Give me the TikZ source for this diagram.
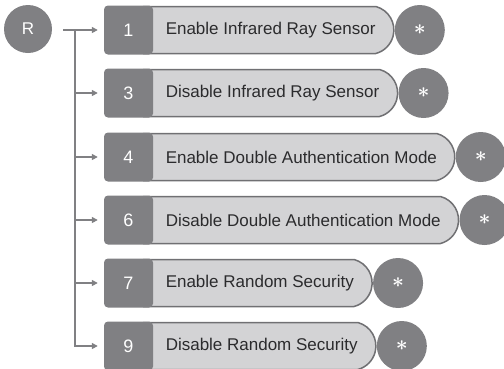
\documentclass[tikz,border=0pt]{standalone}
\usepackage{fontspec}
\setmainfont{Liberation Sans}
\usetikzlibrary{positioning,shapes.misc,arrows.meta}

\definecolor{darkgray}{HTML}{808083}
\definecolor{lightgray}{HTML}{D3D3D5}
\definecolor{edgegray}{HTML}{707073}
\definecolor{inkgray}{HTML}{2B2B2D}

\tikzset{
  keyball/.style={circle, fill=darkgray, minimum size=48pt, inner sep=0pt, text=white,
    font=\fontsize{17pt}{20pt}\selectfont},
  numbox/.style={rectangle, rounded corners=4pt, fill=darkgray, minimum width=49pt,
    minimum height=49pt, inner sep=0pt, text=white, font=\fontsize{18pt}{21pt}\selectfont},
  labbox/.style={rounded rectangle, rounded rectangle left arc=none,
    rounded rectangle arc length=150, draw=edgegray, line width=1.5pt, fill=lightgray,
    minimum height=47pt, inner xsep=17pt, inner ysep=0pt, anchor=west, text=inkgray,
    execute at begin node={\hspace*{5pt}}, font=\fontsize{17pt}{20pt}\selectfont},
  starbox/.style={circle, fill=darkgray, minimum size=50pt, inner sep=0pt, text=white,
    font=\fontsize{22pt}{24pt}\selectfont\boldmath},
  conn/.style={draw=darkgray, line width=1.5pt, -{Triangle[length=6pt,width=6pt]},
    shorten >=6pt}
}

\begin{document}
\begin{tikzpicture}

    \useasboundingbox (0,0) rectangle (504pt,-368pt);

    % 左侧圆形
    \node[keyball] (r) at (28pt,-29pt) {R};

    % 六个选项
    \node[labbox] (lab1) at (143pt,-30pt) {Enable Infrared Ray Sensor};
    \node[numbox] (num1) at (128.5pt,-30pt) {1};
    \node[starbox, right=0pt of lab1] (star1) {$\ast$};

    \node[labbox] (lab3) at (143pt,-93pt) {Disable Infrared Ray Sensor};
    \node[numbox] (num3) at (128.5pt,-93pt) {3};
    \node[starbox, right=0pt of lab3] (star3) {$\ast$};

    \node[labbox] (lab4) at (143pt,-157pt) {Enable Double Authentication Mode};
    \node[numbox] (num4) at (128.5pt,-157pt) {4};
    \node[starbox, right=0pt of lab4] (star4) {$\ast$};

    \node[labbox] (lab6) at (143pt,-220pt) {Disable Double Authentication Mode};
    \node[numbox] (num6) at (128.5pt,-220pt) {6};
    \node[starbox, right=0pt of lab6] (star6) {$\ast$};

    \node[labbox] (lab7) at (143pt,-283pt) {Enable Random Security};
    \node[numbox] (num7) at (128.5pt,-283pt) {7};
    \node[starbox, right=0pt of lab7] (star7) {$\ast$};

    \node[labbox] (lab9) at (143pt,-346pt) {Disable Random Security};
    \node[numbox] (num9) at (128.5pt,-346pt) {9};
    \node[starbox, right=0pt of lab9] (star9) {$\ast$};

    % 连线
    \coordinate (fork) at (63pt,-30pt);
    \coordinate (trunk) at (75pt,-30pt);
    \draw[conn] (fork) -- (num1.west);
    \draw[conn] (trunk) |- (num9.west);
    \draw[conn] (trunk |- num3.west) -- (num3.west);
    \draw[conn] (trunk |- num4.west) -- (num4.west);
    \draw[conn] (trunk |- num6.west) -- (num6.west);
    \draw[conn] (trunk |- num7.west) -- (num7.west);

  \end{tikzpicture}
\end{document}
